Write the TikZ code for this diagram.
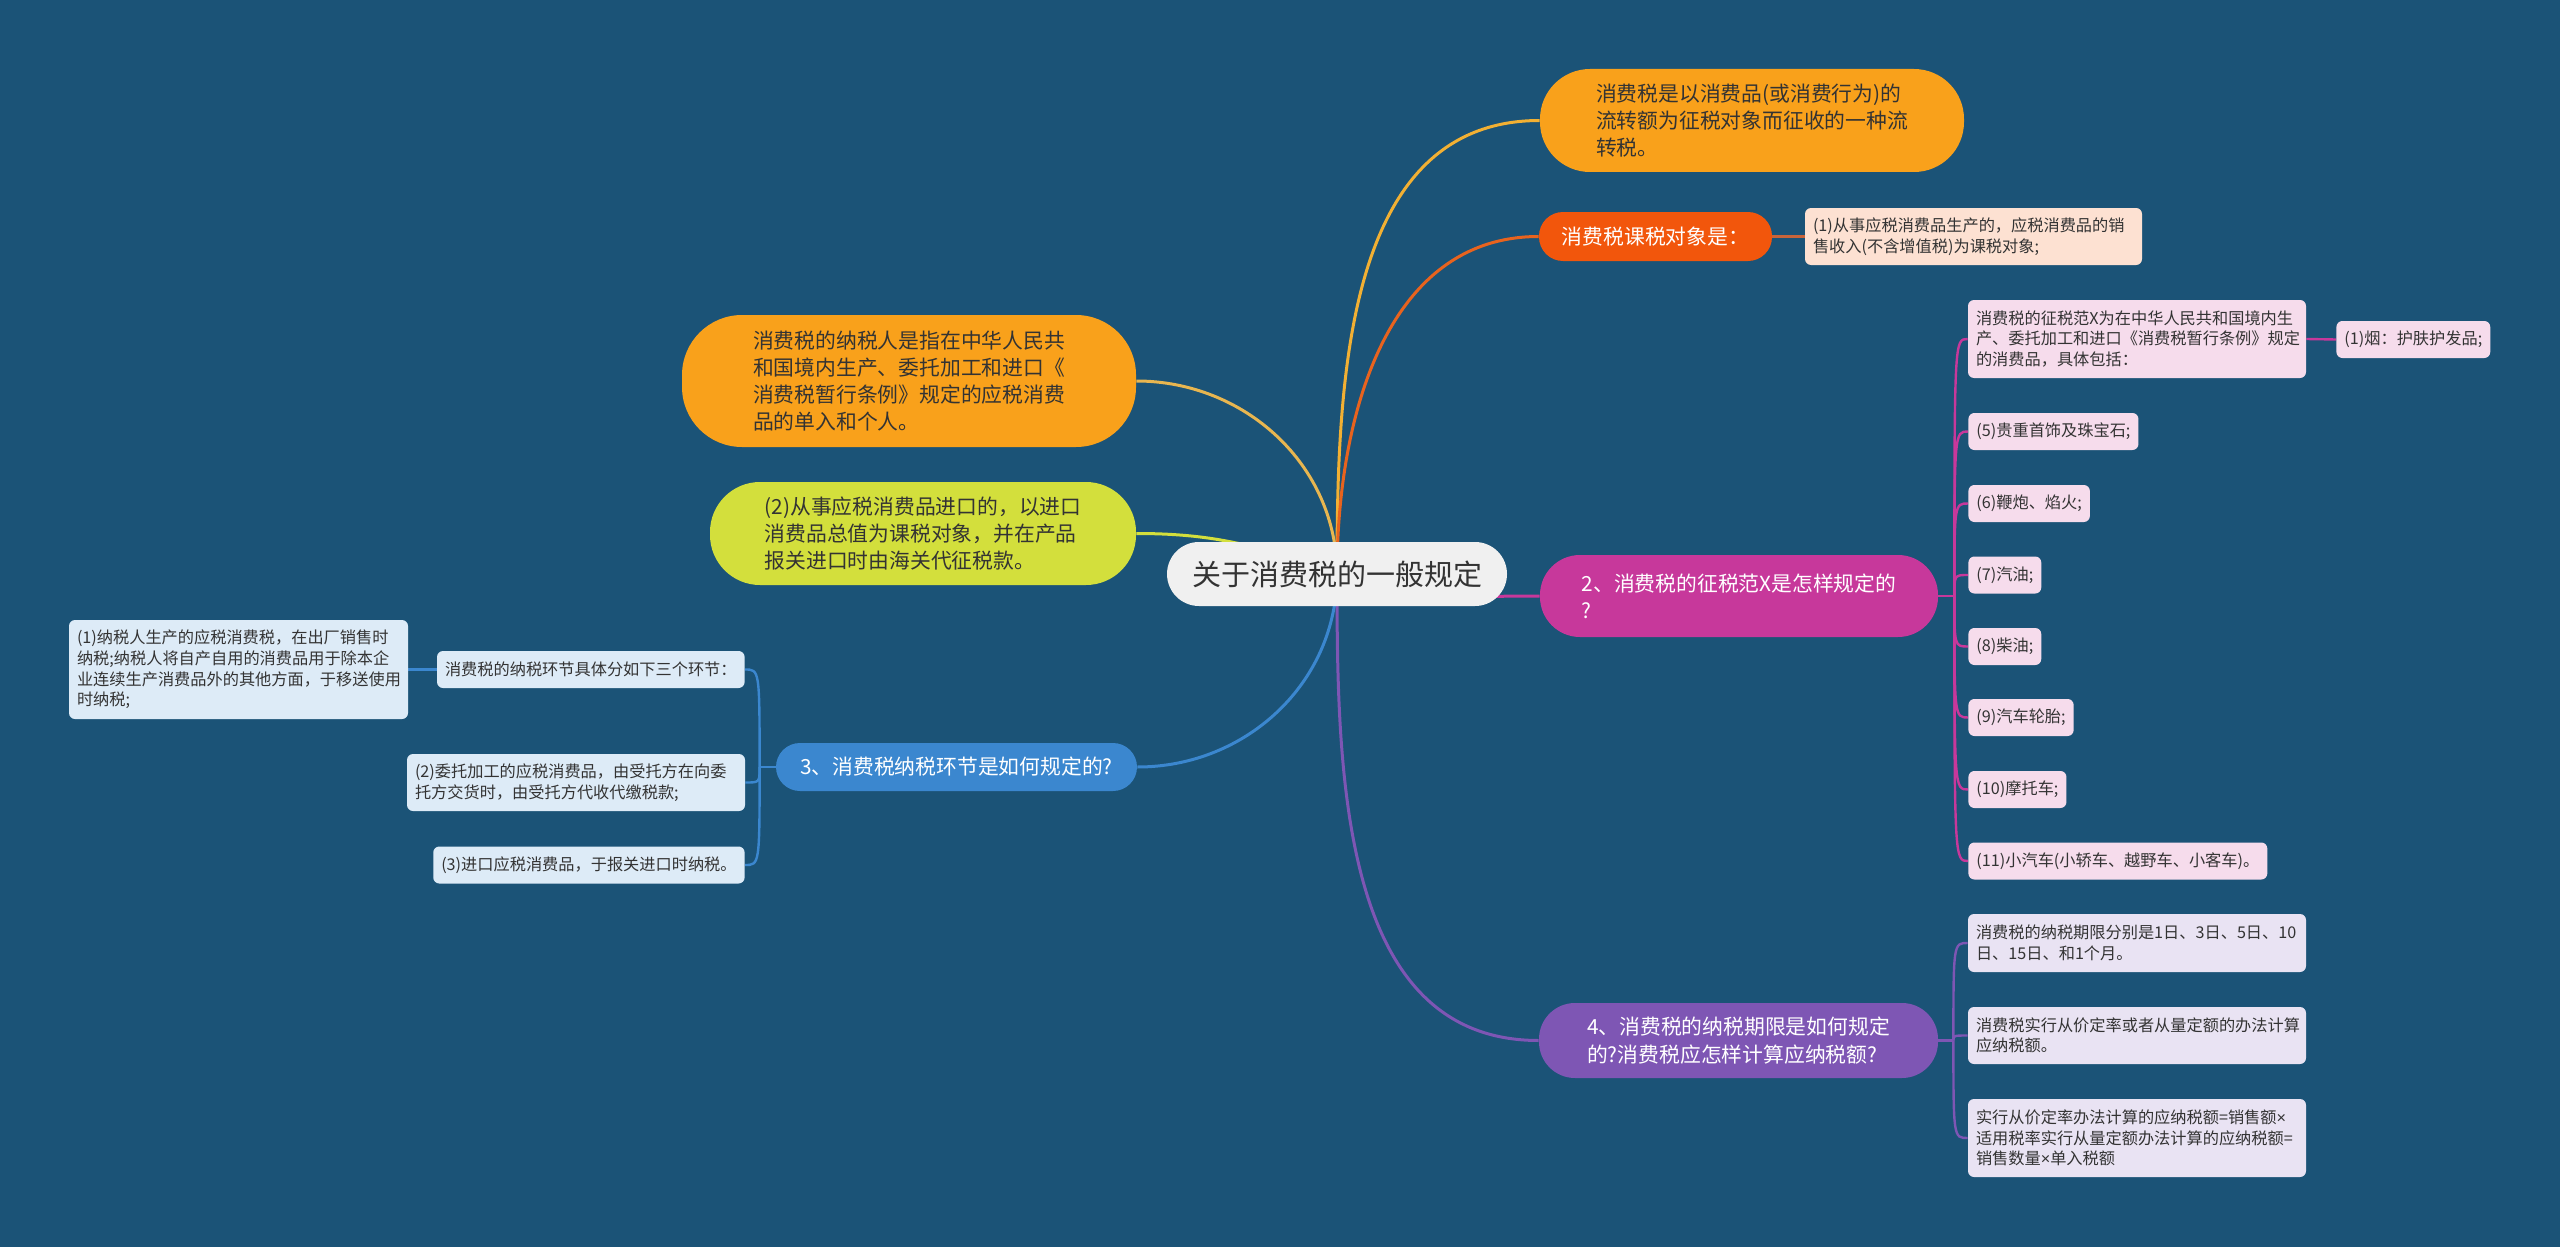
\documentclass[tikz,border=0pt]{standalone}
\usepackage{xcolor}
\usepackage{fontspec}
\newfontfamily\cjk{Noto Sans CJK SC}
\newfontfamily\latin{Liberation Sans}
\usepackage{tikz}
\usetikzlibrary{backgrounds}

\definecolor{bgblue}{HTML}{1B5377}
\definecolor{rootgray}{HTML}{F0F0F0}
\definecolor{txtdark}{HTML}{333333}
\definecolor{amber}{HTML}{F9A11B}
\definecolor{tomato}{HTML}{F2560C}
\definecolor{peach}{HTML}{FDE1D2}
\definecolor{berry}{HTML}{C7389B}
\definecolor{pinkleaf}{HTML}{F6DCEC}
\definecolor{sky}{HTML}{3B87CF}
\definecolor{skyleaf}{HTML}{DDEBF7}
\definecolor{lime}{HTML}{D3DF3C}
\definecolor{grape}{HTML}{7E56B4}
\definecolor{grapeleaf}{HTML}{E9E3F3}
\definecolor{lnamber}{HTML}{F2B033}
\definecolor{lnpayer}{HTML}{E8B650}
\definecolor{lntomato}{HTML}{E8631E}
\definecolor{lnobj}{HTML}{C8643A}

\newcommand{\mul}{{\latin ×}}

\begin{document}
\begin{tikzpicture}[x=0.5pt,y=-0.5pt,
  rootbox/.style={fill=rootgray, text=txtdark, rounded corners=16pt, minimum width=170pt, minimum height=32pt, font=\cjk\fontsize{14.5}{17}\selectfont},
  topic/.style={align=left, inner sep=0pt, font=\cjk\fontsize{10.4}{13.6}\selectfont},
  leaf/.style={align=left, text=txtdark, rounded corners=3pt, inner xsep=4pt, inner ysep=0pt, minimum height=18.5pt, font=\cjk\fontsize{8.1}{10.3}\selectfont},
  link/.style={line width=1.5pt},
  twig/.style={line width=1.2pt}]

\begin{scope}[on background layer]
\fill[bgblue] (0,0) rectangle (2560,1247);
\end{scope}

\node[rootbox] (root) at (1337,574) {关于消费税的一般规定};

% right side
\node[topic, fill=amber, text=txtdark, rounded corners=25pt, minimum width=212pt, minimum height=51.5pt] (tax) at (1752,120.5) {消费税是以消费品(或消费行为)的\\流转额为征税对象而征收的一种流\\转税。};
\node[topic, fill=tomato, text=white, rounded corners=12pt, minimum width=116.5pt, minimum height=24.5pt] (obj) at (1655.5,236.5) {消费税课税对象是：};
\node[leaf, fill=peach, text width=160.5pt, minimum height=28.5pt] (objsub) at (1973.5,236.5) {(1)从事应税消费品生产的，应税消费品的销\\售收入(不含增值税)为课税对象;};

\node[topic, fill=berry, text=white, rounded corners=20pt, minimum width=199pt, minimum height=41pt] (range) at (1739,596) {2、消费税的征税范X是怎样规定的\\?};
\node[leaf, fill=pinkleaf, text width=161pt, minimum height=39pt] (range1) at (2137,339) {消费税的征税范X为在中华人民共和国境内生\\产、委托加工和进口《消费税暂行条例》规定\\的消费品，具体包括：};
\node[leaf, fill=pinkleaf, anchor=west] (range1a) at (2336,339.5) {(1)烟：护肤护发品;};
\node[leaf, fill=pinkleaf, anchor=west] (range5) at (1968,431.5) {(5)贵重首饰及珠宝石;};
\node[leaf, fill=pinkleaf, anchor=west] (range6) at (1968,503.5) {(6)鞭炮、焰火;};
\node[leaf, fill=pinkleaf, anchor=west] (range7) at (1968,575) {(7)汽油;};
\node[leaf, fill=pinkleaf, anchor=west] (range8) at (1968,646.5) {(8)柴油;};
\node[leaf, fill=pinkleaf, anchor=west] (range9) at (1968,717.5) {(9)汽车轮胎;};
\node[leaf, fill=pinkleaf, anchor=west] (range10) at (1968,789.5) {(10)摩托车;};
\node[leaf, fill=pinkleaf, anchor=west] (range11) at (1968,861) {(11)小汽车(小轿车、越野车、小客车)。};

\node[topic, fill=grape, text=white, rounded corners=18pt, minimum width=199.5pt, minimum height=37.5pt] (term) at (1738.5,1040.5) {4、消费税的纳税期限是如何规定\\的?消费税应怎样计算应纳税额?};
\node[leaf, fill=grapeleaf, text width=161pt, minimum height=29pt] (term1) at (2137,943) {消费税的纳税期限分别是1日、3日、5日、10\\日、15日、和1个月。};
\node[leaf, fill=grapeleaf, text width=161pt, minimum height=28.5pt] (term2) at (2137,1035.5) {消费税实行从价定率或者从量定额的办法计算\\应纳税额。};
\node[leaf, fill=grapeleaf, text width=161pt, minimum height=39pt] (term3) at (2137,1138) {实行从价定率办法计算的应纳税额=销售额\mul\\适用税率实行从量定额办法计算的应纳税额=\\销售数量\mul 单入税额};

% left side
\node[topic, fill=amber, text=txtdark, rounded corners=30pt, minimum width=227pt, minimum height=66pt] (payer) at (909,381) {消费税的纳税人是指在中华人民共\\和国境内生产、委托加工和进口《\\消费税暂行条例》规定的应税消费\\品的单入和个人。};
\node[topic, fill=lime, text=txtdark, rounded corners=25pt, minimum width=213pt, minimum height=51.5pt] (import) at (923,533.5) {(2)从事应税消费品进口的，以进口\\消费品总值为课税对象，并在产品\\报关进口时由海关代征税款。};

\node[topic, fill=sky, text=white, rounded corners=12pt, minimum width=180.5pt, minimum height=24pt] (stage) at (956.5,767) {3、消费税纳税环节是如何规定的?};
\node[leaf, fill=skyleaf, anchor=east] (stage0) at (745,669.5) {消费税的纳税环节具体分如下三个环节：};
\node[leaf, fill=skyleaf, text width=161.5pt, minimum height=49.5pt] (stage1) at (238.5,669.5) {(1)纳税人生产的应税消费税，在出厂销售时\\纳税;纳税人将自产自用的消费品用于除本企\\业连续生产消费品外的其他方面，于移送使用\\时纳税;};
\node[leaf, fill=skyleaf, text width=161pt, minimum height=28.5pt] (stage2) at (576,782.5) {(2)委托加工的应税消费品，由受托方在向委\\托方交货时，由受托方代收代缴税款;};
\node[leaf, fill=skyleaf, anchor=east] (stage3) at (745,865) {(3)进口应税消费品，于报关进口时纳税。};

\coordinate (rangefork) at ([xshift=8pt]range.east);
\coordinate (termfork) at ([xshift=7.5pt]term.east);
\coordinate (stagefork) at ([xshift=-8pt]stage.west);

\begin{scope}[on background layer]
% main branches
\draw[link, draw=lnamber] (root.center) to[out=90,in=180] (tax.west);
\draw[link, draw=lntomato] (root.center) to[out=90,in=180] (obj.west);
\draw[link, draw=berry] (root.center) to[out=-20,in=180] (range.west);
\draw[link, draw=grape] (root.center) to[out=-90,in=180] (term.west);
\draw[link, draw=lnpayer] (root.center) to[out=90,in=0] (payer.east);
\draw[link, draw=lime] (root.center) to[out=160,in=0] (import.east);
\draw[link, draw=sky] (root.center) to[out=-90,in=0] (stage.east);

\draw[twig, draw=lnobj] (obj.east) -- (objsub.west);

% range
\draw[twig, draw=berry] (range.east) -- (rangefork);
\draw[twig, draw=berry] (rangefork) .. controls (rangefork |- range1.west) .. (range1.west);
\draw[twig, draw=berry] (rangefork) .. controls (rangefork |- range5.west) .. (range5.west);
\draw[twig, draw=berry] (rangefork) .. controls (rangefork |- range6.west) .. (range6.west);
\draw[twig, draw=berry] (rangefork) .. controls (rangefork |- range7.west) .. (range7.west);
\draw[twig, draw=berry] (rangefork) .. controls (rangefork |- range8.west) .. (range8.west);
\draw[twig, draw=berry] (rangefork) .. controls (rangefork |- range9.west) .. (range9.west);
\draw[twig, draw=berry] (rangefork) .. controls (rangefork |- range10.west) .. (range10.west);
\draw[twig, draw=berry] (rangefork) .. controls (rangefork |- range11.west) .. (range11.west);
\draw[twig, draw=berry] (range1.east) -- (range1a.west);

% term
\draw[twig, draw=grape] (term.east) -- (termfork);
\draw[twig, draw=grape] (termfork) .. controls (termfork |- term1.west) .. (term1.west);
\draw[twig, draw=grape] (termfork) .. controls (termfork |- term2.west) .. (term2.west);
\draw[twig, draw=grape] (termfork) .. controls (termfork |- term3.west) .. (term3.west);

% stage
\draw[twig, draw=sky] (stage.west) -- (stagefork);
\draw[twig, draw=sky] (stagefork) .. controls (stagefork |- stage0.east) .. (stage0.east);
\draw[twig, draw=sky] (stagefork) .. controls (stagefork |- stage2.east) .. (stage2.east);
\draw[twig, draw=sky] (stagefork) .. controls (stagefork |- stage3.east) .. (stage3.east);
\draw[twig, draw=sky] (stage0.west) -- (stage1.east);
\end{scope}

\end{tikzpicture}
\end{document}
